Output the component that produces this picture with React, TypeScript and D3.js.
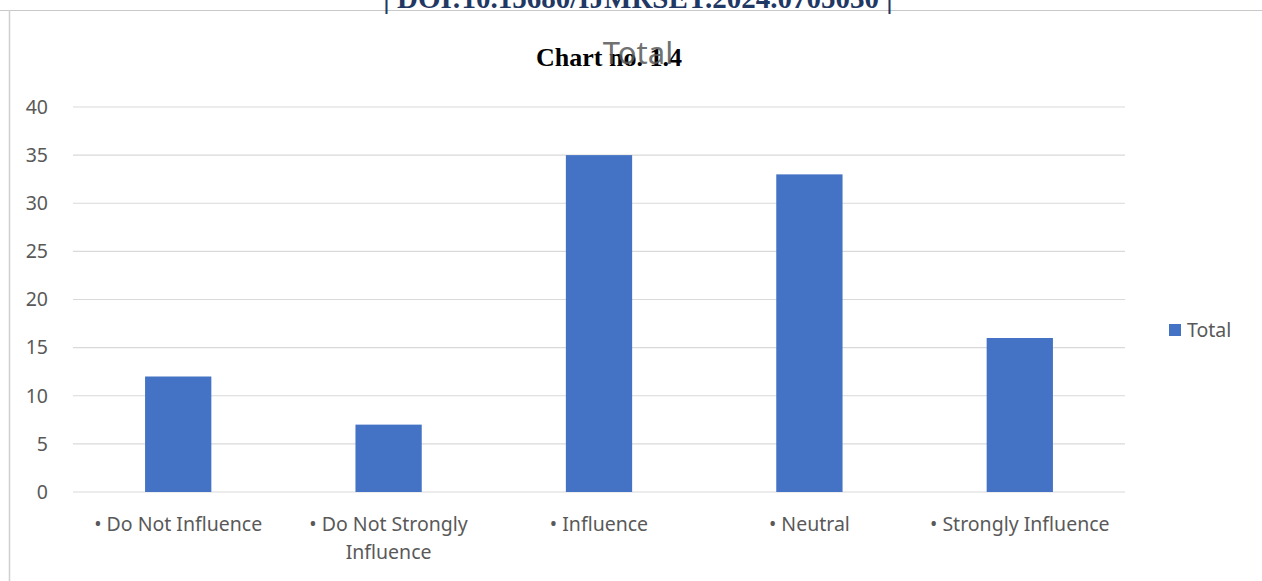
import React, { useRef, useEffect } from "react";
import * as d3 from "d3";

const categories = [
  ["• Do Not Influence"],
  ["• Do Not Strongly", "Influence"],
  ["• Influence"],
  ["• Neutral"],
  ["• Strongly Influence"],
];
const totals = [12, 7, 35, 33, 16];
const yTicks = [0, 5, 10, 15, 20, 25, 30, 35, 40];
const seriesName = "Total";

const W = 1262;
const H = 581;

const App = () => {
  const svgRef = useRef<SVGSVGElement>(null);

  useEffect(() => {
    const svg = d3.select(svgRef.current);
    svg.selectAll("*").remove();

    const left = 73, right = 1125, top = 107, bottom = 492;
    const font = "'Noto Sans', 'Open Sans', sans-serif";
    const fs = 19.5;

    // page bits around the chart
    svg.append("line").attr("x1", 0).attr("x2", W).attr("y1", 10.5).attr("y2", 10.5)
      .attr("stroke", "#c8c8c8").attr("stroke-width", 1);
    svg.append("line").attr("x1", 9.5).attr("x2", 9.5).attr("y1", 10).attr("y2", H)
      .attr("stroke", "#d0d0d0").attr("stroke-width", 1.5);
    svg.append("text").attr("x", 638).attr("y", 8).attr("text-anchor", "middle")
      .attr("font-family", "'Liberation Serif', serif").attr("font-weight", "bold")
      .attr("font-size", 29).attr("fill", "#1f3864")
      .text("| DOI:10.15680/IJMRSET.2024.0705030 |");

    const x = d3.scaleBand<number>().domain(d3.range(categories.length)).range([left, right]);
    const y = d3.scaleLinear().domain([0, 40]).range([bottom, top]);

    // gridlines
    svg.append("g").selectAll("line").data(yTicks).enter().append("line")
      .attr("x1", left).attr("x2", right)
      .attr("y1", d => y(d)).attr("y2", d => y(d))
      .attr("stroke", "#d9d9d9").attr("stroke-width", 1.2);

    svg.append("g").selectAll("text").data(yTicks).enter().append("text")
      .attr("x", 48).attr("y", d => y(d)).attr("dy", "0.35em")
      .attr("text-anchor", "end").attr("font-family", font).attr("font-size", fs)
      .attr("fill", "#595959").text(d => d);

    const bw = x.bandwidth() * 0.315;
    svg.append("g").selectAll("rect").data(totals).enter().append("rect")
      .attr("x", (d, i) => (x(i) as number) + x.bandwidth() / 2 - bw / 2)
      .attr("y", d => y(d)).attr("width", bw).attr("height", d => y(0) - y(d))
      .attr("fill", "#4472c4");

    const lab = svg.append("g").selectAll("text").data(categories).enter().append("text")
      .attr("x", (d, i) => (x(i) as number) + x.bandwidth() / 2)
      .attr("y", 524).attr("text-anchor", "middle")
      .attr("font-family", font).attr("font-size", fs).attr("fill", "#595959");
    lab.each(function (d) {
      const t = d3.select(this);
      const cx = t.attr("x");
      d.forEach((line, k) => {
        t.append("tspan").attr("x", cx).attr("dy", k === 0 ? "0.35em" : 28).text(line);
      });
    });

    // legend
    svg.append("rect").attr("x", 1169).attr("y", 324).attr("width", 12).attr("height", 12)
      .attr("fill", "#4472c4");
    svg.append("text").attr("x", 1187).attr("y", 330).attr("dy", "0.35em")
      .attr("font-family", font).attr("font-size", fs).attr("fill", "#595959").text(seriesName);

    // titles overlapping
    svg.append("text").attr("x", 609).attr("y", 66).attr("text-anchor", "middle")
      .attr("font-family", "'Liberation Serif', serif").attr("font-weight", "bold")
      .attr("font-size", 26).attr("fill", "#000").text("Chart no. 1.4");
    svg.append("text").attr("x", 638).attr("y", 64).attr("text-anchor", "middle")
      .attr("font-family", font).attr("font-size", 31).attr("fill", "#595959")
      .attr("opacity", 0.85).text(seriesName);
  }, []);

  return (
    <svg ref={svgRef} width={W} height={H}
      style={{ position: "absolute", left: 0, top: 0, background: "#fff" }} />
  );
};

export default App;
